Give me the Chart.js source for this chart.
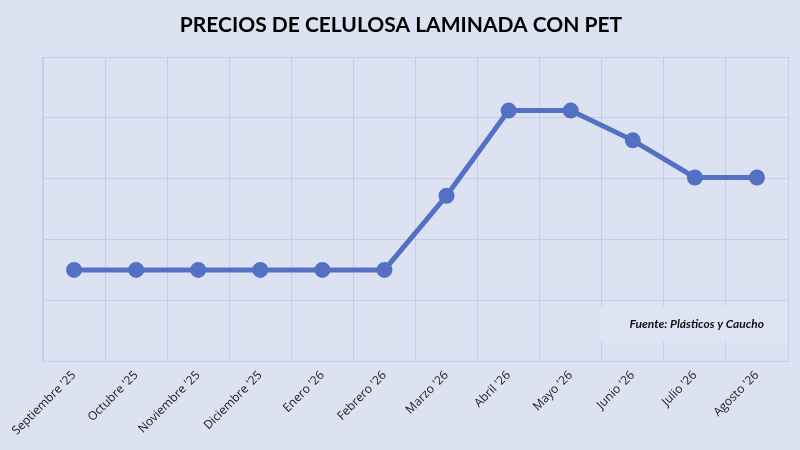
<!DOCTYPE html>
<html>
<head>
<meta charset="utf-8">
<script src="https://cdn.jsdelivr.net/npm/chart.js@4"></script>
<style>
  html, body { margin: 0; padding: 0; background: #dde2f3; }
  #wrap { width: 800px; height: 450px; }
</style>
</head>
<body>
<div id="wrap"><canvas id="chart"></canvas></div>
<script>
'use strict';

// meses
const labels = ["Septiembre '25", "Octubre '25", "Noviembre '25", "Diciembre '25", "Enero '26", "Febrero '26",
    "Marzo '26", "Abril '26", "Mayo '26", "Junio '26", "Julio '26", "Agosto '26"];
// precios (escala, sin etiquetas en el eje)
const precios = [1.5, 1.5, 1.5, 1.5, 1.5, 1.5, 2.72, 4.12, 4.12, 3.63, 3.02, 3.02];

const titulo = 'PRECIOS DE CELULOSA LAMINADA CON PET';
const fuente = 'Fuente: Plásticos y Caucho';

const GRID = '#c6cde8';
const LINEA = '#5470c3';

// título centrado en el lienzo + caja con la fuente
const textosPlugin = {
    id: 'textos',
    afterDatasetsDraw(chart) {
        const ctx = chart.ctx;
        const a = chart.chartArea;
        ctx.save();
        ctx.font = 'bold 21px Lato';
        ctx.fillStyle = '#000';
        ctx.textAlign = 'center';
        ctx.textBaseline = 'middle';
        ctx.fillText(titulo, chart.width / 2 + 1, 25);

        ctx.fillStyle = '#dfe4f4';
        ctx.fillRect(a.right - 188, a.bottom - 55, 187, 35);
        ctx.font = 'italic bold 12px Lato';
        ctx.fillStyle = '#111';
        ctx.textAlign = 'right';
        ctx.fillText(fuente, a.right - 24, a.bottom - 37);
        ctx.restore();
    }
};

const ctx = document.getElementById('chart').getContext('2d');
new Chart(ctx, {
    type: 'line',
    data: {
        labels: labels,
        datasets: [{
            data: precios,
            borderColor: LINEA,
            backgroundColor: LINEA,
            borderWidth: 5,
            pointRadius: 5.5,
            pointHoverRadius: 5.5,
            tension: 0
        }]
    },
    options: {
        responsive: true,
        maintainAspectRatio: false,
        animation: false,
        layout: { padding: { left: 43, right: 12, top: 57, bottom: 5 } },
        plugins: {
            legend: { display: false },
            tooltip: { enabled: false },
            title: { display: false }
        },
        scales: {
            x: {
                offset: true,
                grid: { color: GRID, offset: true, drawTicks: false },
                border: { color: GRID },
                ticks: {
                    minRotation: 45,
                    maxRotation: 45,
                    padding: 7,
                    color: '#1a1a1a',
                    font: { family: 'Open Sans', size: 12 }
                }
            },
            y: {
                min: 0,
                max: 5,
                afterFit(scale) { scale.width = 0; },
                grid: { color: GRID, drawTicks: false },
                border: { color: GRID },
                ticks: { display: false, stepSize: 1 }
            }
        }
    },
    plugins: [textosPlugin]
});
</script>
</body>
</html>
